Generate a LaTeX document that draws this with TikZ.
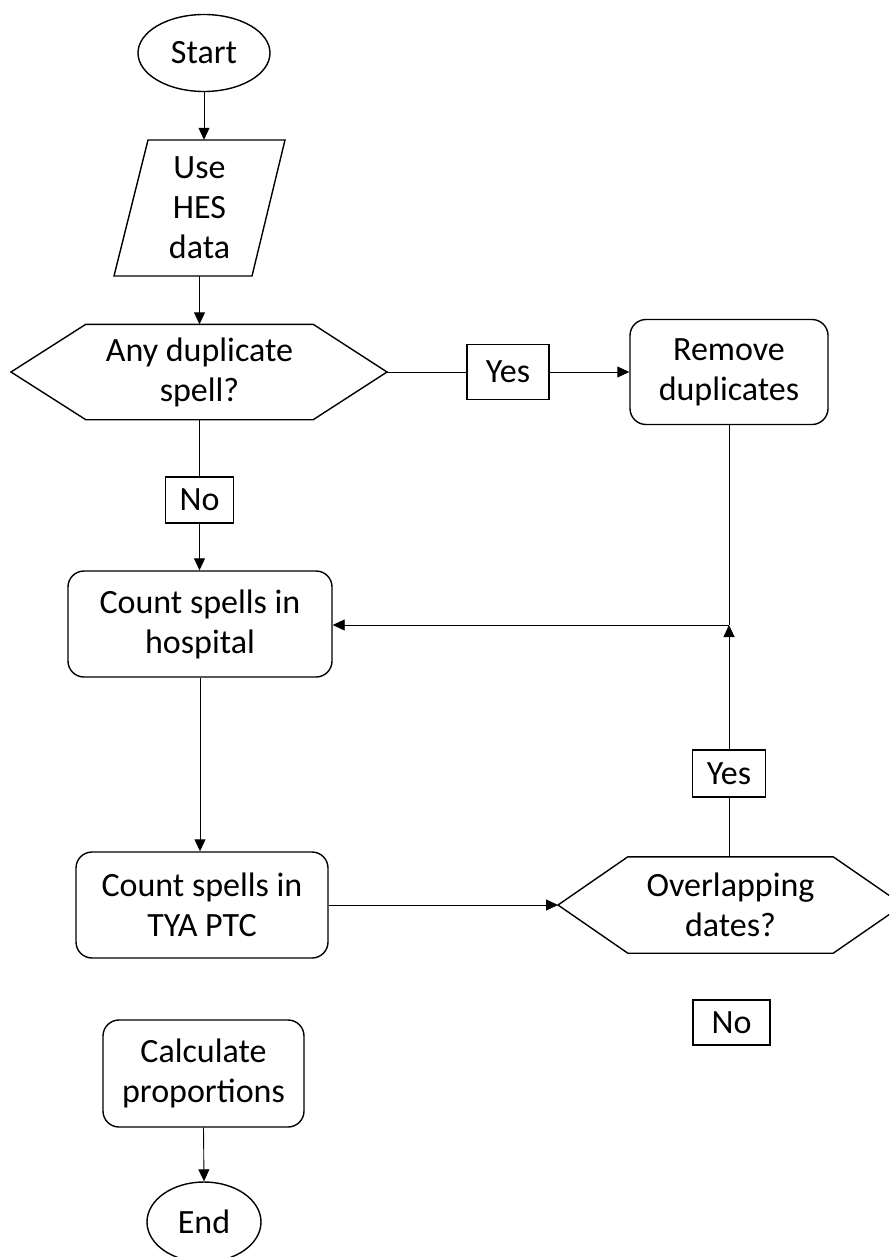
\documentclass[tikz,border=0pt]{standalone}
\usepackage{fontspec}
\setmainfont{Carlito}
\usetikzlibrary{shapes.geometric,arrows.meta}
\begin{document}
\begin{tikzpicture}[x=1pt,y=-1pt,
  every node/.style={font=\fontsize{34}{40}\selectfont, align=center, inner sep=0pt},
  shp/.style={line width=1.4pt},
  term/.style={shp, draw, ellipse},
  proc/.style={shp, draw, rectangle, rounded corners=16pt},
  lbl/.style={shp, draw, rectangle},
  ghost/.style={rectangle},
  con/.style={line width=0.9pt},
  arr/.style={con, -{Triangle[length=12pt,width=11pt]}}]
\useasboundingbox (0,0) rectangle (889,1257);
\clip (0,0) rectangle (889,1257);
% nodes
\node[term, minimum width=132pt, minimum height=77pt] (start) at (204,53) {Start};
\node[ghost, minimum width=171pt, minimum height=136pt] (p) at (199.5,208) {Use\\HES\\data};
\draw[shp] (148,140) -- (285,140) -- (252,276) -- (114,276) -- cycle;
\node[ghost, minimum width=227pt, minimum height=95pt] (h1) at (199.5,372) {Any duplicate\\spell?};
\coordinate (h1r) at (387,372);
\coordinate (h1l) at (11,372);
\draw[shp] (h1l) -- (h1.north west) -- (h1.north east) -- (h1r) -- (h1.south east) -- (h1.south west) -- cycle;
\node[lbl, minimum width=82pt, minimum height=55pt] (yes1) at (508,372) {Yes};
\node[proc, minimum width=198pt, minimum height=105pt] (rem) at (729,372) {Remove\\duplicates};
\node[lbl, minimum width=68pt, minimum height=46pt] (no1) at (199.5,500) {No};
\node[proc, minimum width=264pt, minimum height=106pt] (hosp) at (200,624) {Count spells in\\hospital};
\node[proc, minimum width=252pt, minimum height=106pt] (tya) at (202,905) {Count spells in\\TYA PTC};
\node[ghost, minimum width=205pt, minimum height=96pt] (h2) at (730.5,905) {Overlapping\\dates?};
\coordinate (h2l) at (558,905);
\coordinate (h2r) at (903,905);
\draw[shp] (h2l) -- (h2.north west) -- (h2.north east) -- (h2r) -- (h2.south east) -- (h2.south west) -- cycle;
\node[lbl, minimum width=73pt, minimum height=47pt] (yes2) at (729,773.5) {Yes};
\node[lbl, minimum width=77pt, minimum height=45pt] (no2) at (731.5,1022.5) {No};
\node[proc, minimum width=201pt, minimum height=107pt] (calc) at (203.5,1073.5) {Calculate\\proportions};
\node[term, minimum width=114pt, minimum height=80pt] (end) at (204,1222) {End};
\coordinate (j) at (729,625);
% connectors
\draw[arr] (start.south) -- (start.south |- p.north);
\draw[arr] (p.south) -- (h1.north);
\draw[con] (h1r) -- (yes1.west);
\draw[arr] (yes1.east) -- (rem.west);
\draw[con] (h1.south) -- (no1.north);
\draw[arr] (no1.south) -- (no1.south |- hosp.north);
\draw[con] (rem.south) -- (j);
\draw[arr] (j) -- (j -| hosp.east);
\draw[arr] (hosp.south) -- (hosp.south |- tya.north);
\draw[arr] (tya.east) -- (h2l);
\draw[con] (yes2.south |- h2.north) -- (yes2.south);
\draw[arr] (yes2.north) -- (j);
\draw[arr] (calc.south) -- (end.north);
\end{tikzpicture}
\end{document}
